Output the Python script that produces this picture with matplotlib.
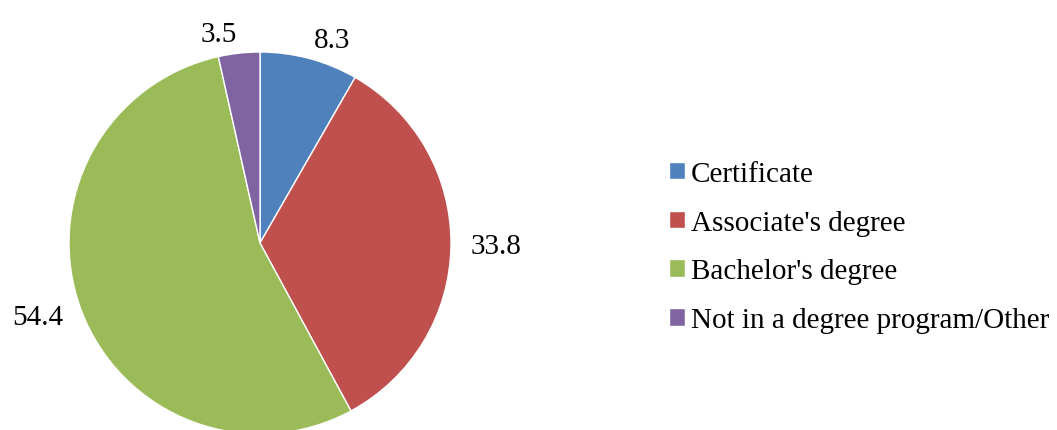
import matplotlib
matplotlib.use("Agg")
import matplotlib.pyplot as plt

categories = ["Certificate", "Associate's degree", "Bachelor's degree",
              "Not in a degree program/Other"]
values = [8.3, 33.8, 54.4, 3.5]
colors = ["#4F81BD", "#C0504D", "#9BBB59", "#8064A2"]

plt.rcParams['font.family'] = ['Liberation Serif', 'DejaVu Serif']

W, H = 1057, 431
fig = plt.figure(figsize=(W / 100, H / 100), dpi=100)
cx, cy, r = 260, 244, 191
ax = fig.add_axes([(cx - r) / W, (H - cy - r) / H, 2 * r / W, 2 * r / H])

wedges, texts = ax.pie(values, labels=["%.1f" % v for v in values],
                       colors=colors, startangle=90, counterclock=False,
                       radius=1, labeldistance=1.1,
                       wedgeprops=dict(edgecolor='white', linewidth=1),
                       textprops=dict(fontsize=21))
ax.set_xlim(-1, 1)
ax.set_ylim(-1, 1)
ax.axis('off')
for t in texts:
    t.set_va('center')
    t.set_clip_on(False)
for w in wedges:
    w.set_clip_on(False)

fig.legend(wedges, categories, loc='center left',
           bbox_to_anchor=(669 / W, 1 - 248 / H), frameon=False,
           fontsize=21, handlelength=0.55, handleheight=0.55,
           handletextpad=0.2, labelspacing=0.78, borderaxespad=0,
           borderpad=0)

fig.savefig("out.png", dpi=100)
